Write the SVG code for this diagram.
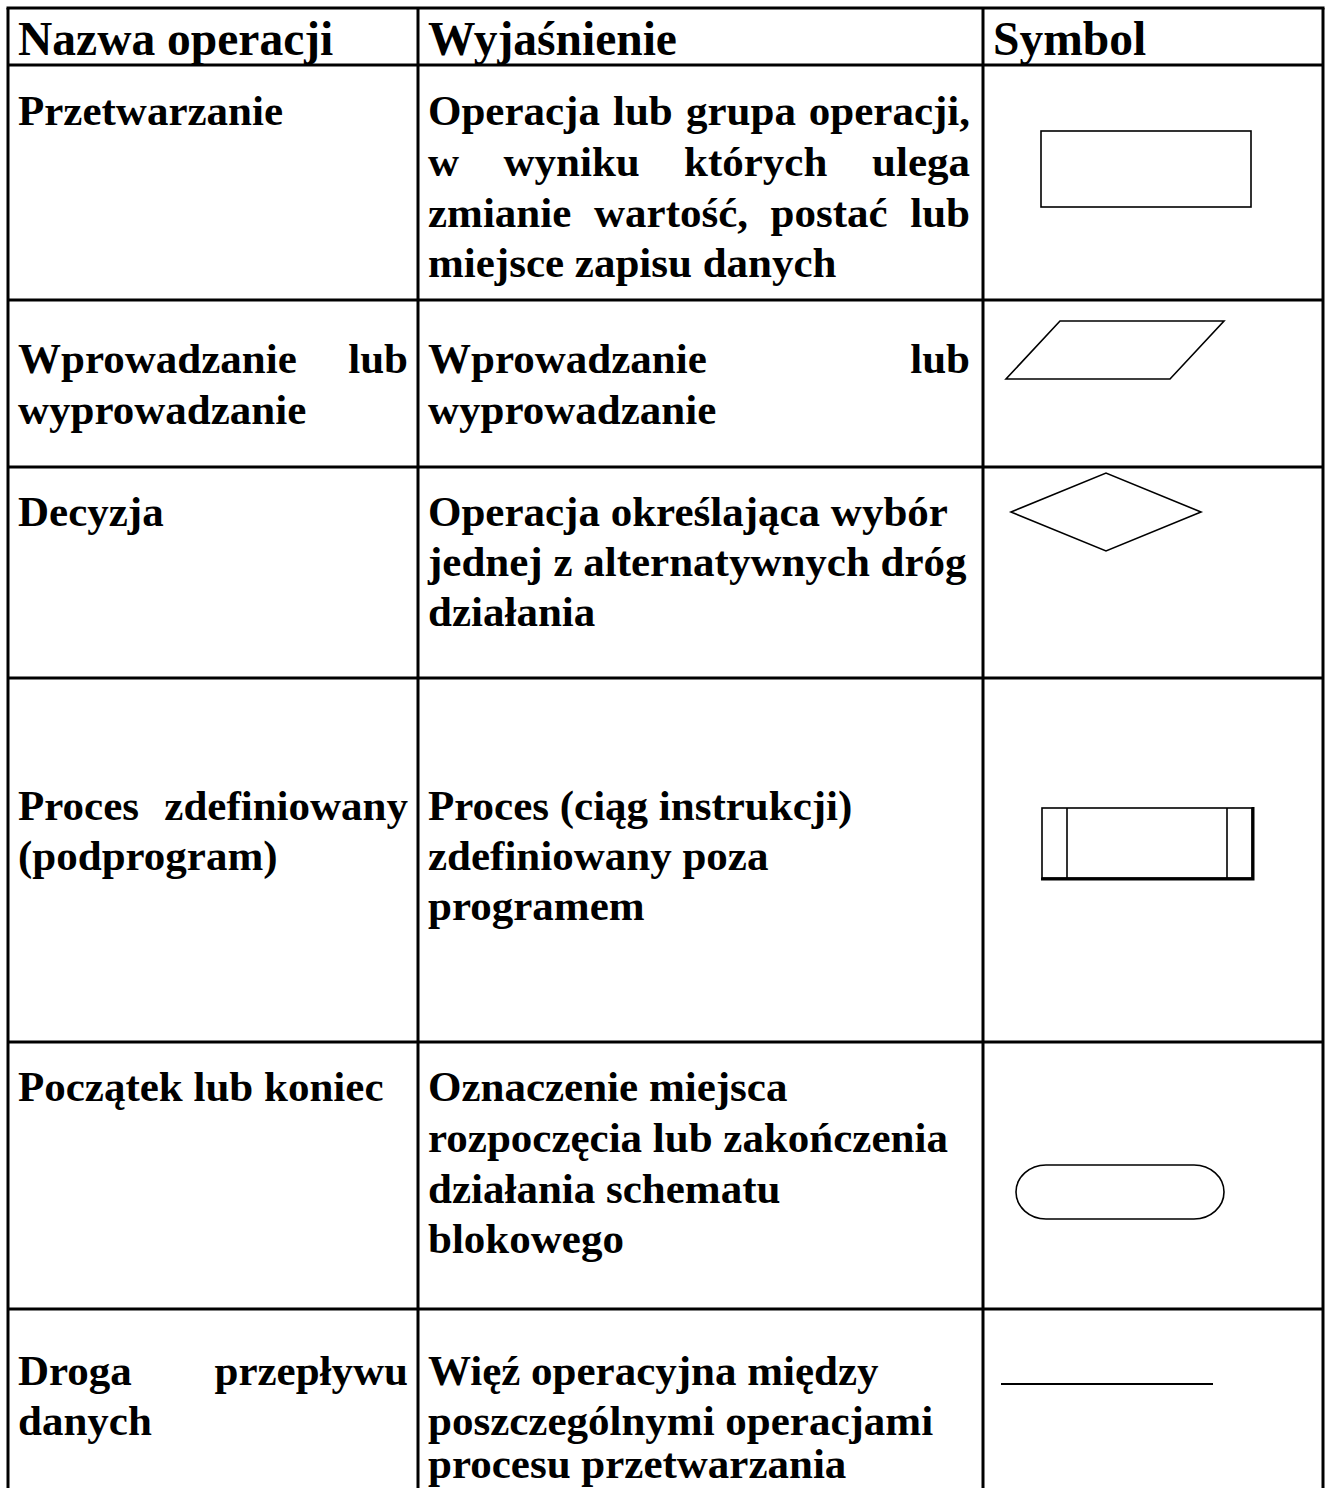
<svg xmlns="http://www.w3.org/2000/svg" width="1325" height="1488" viewBox="0 0 1325 1488">
  <style>
    text { font-family: "Liberation Serif", "Times New Roman", serif; font-weight: bold; fill: #000; }
    .hd { font-size: 47.5px; }
    .tx { font-size: 43px; }
    .end { text-anchor: end; }
    .grid { stroke: #000; stroke-width: 3; fill: none; }
    .sym { stroke: #000; stroke-width: 1.6; fill: #fff; }
  </style>

  <rect x="0" y="0" width="1325" height="1488" fill="#fff"/>

  <!-- table grid -->
  <g id="grid" class="grid">
    <line x1="6.5" y1="8" x2="1324.5" y2="8"/>
    <line x1="8" y1="8" x2="8" y2="1488"/>
    <line x1="418" y1="8" x2="418" y2="1488"/>
    <line x1="983" y1="8" x2="983" y2="1488"/>
    <line x1="1323" y1="8" x2="1323" y2="1488"/>
    <line x1="8" y1="65" x2="1323" y2="65"/>
    <line x1="8" y1="300" x2="1323" y2="300"/>
    <line x1="8" y1="467" x2="1323" y2="467"/>
    <line x1="8" y1="678" x2="1323" y2="678"/>
    <line x1="8" y1="1042" x2="1323" y2="1042"/>
    <line x1="8" y1="1309" x2="1323" y2="1309"/>
  </g>

  <!-- header row -->
  <g id="header">
    <text class="hd" x="18" y="55">Nazwa operacji</text>
    <text class="hd" x="428" y="55">Wyjaśnienie</text>
    <text class="hd" x="993" y="55">Symbol</text>
  </g>

  <!-- processing -->
  <g id="przetwarzanie">
    <text class="tx" x="18" y="125">Przetwarzanie</text>
    <text class="tx" y="125"><tspan x="428">Operacja</tspan><tspan x="613">lub</tspan><tspan x="686">grupa</tspan></text>
    <text class="tx end" x="970" y="125">operacji,</text>
    <text class="tx" y="176"><tspan x="428">w</tspan><tspan x="503.5">wyniku</tspan><tspan x="684">których</tspan></text>
    <text class="tx end" x="970" y="176">ulega</text>
    <text class="tx" y="227"><tspan x="428">zmianie</tspan><tspan x="594">wartość,</tspan><tspan x="770.5">postać</tspan></text>
    <text class="tx end" x="970" y="227">lub</text>
    <text class="tx" x="428" y="277">miejsce zapisu danych</text>
    <rect class="sym" x="1041" y="131" width="210" height="76"/>
  </g>

  <!-- input / output -->
  <g id="wejscie-wyjscie">
    <text class="tx" x="18" y="373">Wprowadzanie</text>
    <text class="tx end" x="408" y="373">lub</text>
    <text class="tx" x="18" y="424">wyprowadzanie</text>
    <text class="tx" x="428" y="373">Wprowadzanie</text>
    <text class="tx end" x="970" y="373">lub</text>
    <text class="tx" x="428" y="424">wyprowadzanie</text>
    <polygon class="sym" points="1060,321 1224,321 1170,379 1006,379"/>
  </g>

  <!-- decision -->
  <g id="decyzja">
    <text class="tx" x="18" y="526">Decyzja</text>
    <text class="tx" x="428" y="526">Operacja określająca wybór</text>
    <text class="tx" x="428" y="576">jednej z alternatywnych dróg</text>
    <text class="tx" x="428" y="626">działania</text>
    <polygon class="sym" points="1011,512 1106,473 1201,512 1106,551"/>
  </g>

  <!-- predefined process -->
  <g id="proces-zdefiniowany">
    <text class="tx" x="18" y="820">Proces</text>
    <text class="tx end" x="408" y="820">zdefiniowany</text>
    <text class="tx" x="18" y="870">(podprogram)</text>
    <text class="tx" x="428" y="820">Proces (ciąg instrukcji)</text>
    <text class="tx" x="428" y="870">zdefiniowany poza</text>
    <text class="tx" x="428" y="920">programem</text>
    <rect class="sym" x="1042" y="808" width="210" height="70"/>
    <line x1="1067" y1="808" x2="1067" y2="878" stroke="#000" stroke-width="1.6"/>
    <line x1="1227" y1="808" x2="1227" y2="878" stroke="#000" stroke-width="1.6"/>
    <polyline points="1041,879 1253,879 1253,807" fill="none" stroke="#000" stroke-width="3"/>
  </g>

  <!-- terminator -->
  <g id="poczatek-koniec">
    <text class="tx" x="18" y="1101">Początek lub koniec</text>
    <text class="tx" x="428" y="1101">Oznaczenie miejsca</text>
    <text class="tx" x="428" y="1152">rozpoczęcia lub zakończenia</text>
    <text class="tx" x="428" y="1203">działania schematu</text>
    <text class="tx" x="428" y="1253">blokowego</text>
    <rect class="sym" x="1016" y="1165" width="208" height="54" rx="30" ry="27" stroke-width="2.4"/>
  </g>

  <!-- data flow line -->
  <g id="droga-przeplywu">
    <text class="tx" x="18" y="1385">Droga</text>
    <text class="tx end" x="408" y="1385">przepływu</text>
    <text class="tx" x="18" y="1435">danych</text>
    <text class="tx" x="428" y="1385">Więź operacyjna między</text>
    <text class="tx" x="428" y="1435">poszczególnymi operacjami</text>
    <text class="tx" x="428" y="1478">procesu przetwarzania</text>
    <line x1="1001" y1="1384" x2="1213" y2="1384" stroke="#000" stroke-width="1.8"/>
  </g>
</svg>
